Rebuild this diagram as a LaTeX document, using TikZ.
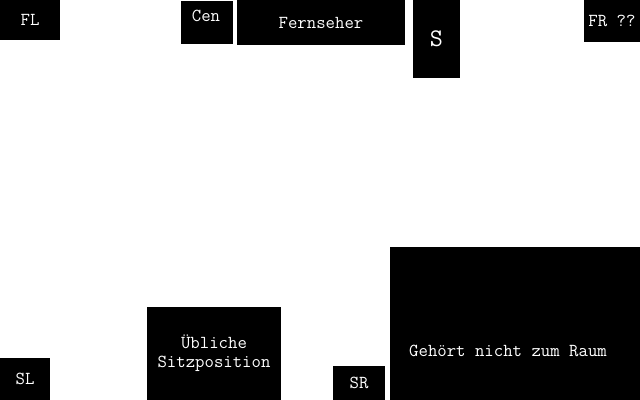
\documentclass[tikz,border=0pt]{standalone}
\usepackage{xcolor}
\usepackage{tikz}
\usetikzlibrary{positioning}
\definecolor{roomblack}{HTML}{000000}

\tikzset{
  box/.style={fill=roomblack, inner sep=0pt, text=white, align=center,
              font=\ttfamily\fontsize{13}{13.5}\selectfont},
  boxtext/.style={text=white, inner sep=0pt, align=center,
              font=\ttfamily\fontsize{13}{13.5}\selectfont}
}

\begin{document}
\begin{tikzpicture}
  \useasboundingbox (0,0) rectangle (16,10);
  % Lautsprecher und Fernseher oben
  \node[box, minimum width=1.5cm, minimum height=1cm] (fl) at (0.75,9.5) {FL};
  \node[box, minimum width=1.3cm, minimum height=1.075cm] (cen) at (5.175,9.4375) {};
  \node[boxtext] (centext) at (5.15,9.6) {Cen};
  \node[box, minimum width=4.2cm, minimum height=1.125cm] (tv) at (8.025,9.4375) {Fernseher};
  \node[box, minimum width=1.175cm, minimum height=1.95cm,
        font=\ttfamily\fontsize{18}{18}\selectfont] (s) at (10.9125,9.025) {S};
  \node[box, minimum width=1.4cm, minimum height=1.05cm] (fr) at (15.3,9.475) {FR ??};
  % unten
  \node[box, minimum width=3.35cm, minimum height=2.325cm] (sitz) at (5.35,1.1625) {Übliche\\Sitzposition};
  \node[box, minimum width=1.25cm, minimum height=1.05cm] (sl) at (0.625,0.525) {SL};
  \node[box, minimum width=1.3cm, minimum height=0.85cm] (sr) at (8.975,0.425) {SR};
  \node[box, minimum width=6.25cm, minimum height=3.825cm] (extra) at (12.875,1.9125) {};
  \node[boxtext] (extratext) at (12.7,1.225) {Gehört nicht zum Raum};
\end{tikzpicture}
\end{document}
